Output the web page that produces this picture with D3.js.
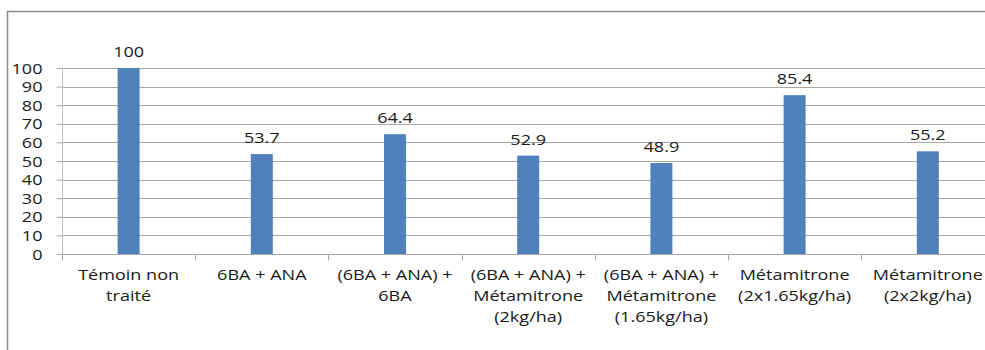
<!DOCTYPE html>
<html>
<head>
<meta charset="utf-8">
<script src="https://cdn.jsdelivr.net/npm/d3@7"></script>
<style>
  html, body { margin: 0; padding: 0; background: #fff; }
  svg { display: block; }
  text { font-family: "Open Sans", sans-serif; font-size: 14px; fill: #1a1a1a; }
</style>
</head>
<body>
<svg id="chart" width="985" height="350"></svg>
<script>
// Treatments (label lines) and their relative values
const categories = [
  ["Témoin non", "traité"],
  ["6BA + ANA"],
  ["(6BA + ANA) +", "6BA"],
  ["(6BA + ANA) +", "Métamitrone", "(2kg/ha)"],
  ["(6BA + ANA) +", "Métamitrone", "(1.65kg/ha)"],
  ["Métamitrone", "(2x1.65kg/ha)"],
  ["Métamitrone", "(2x2kg/ha)"]
];
const values = [100, 53.7, 64.4, 52.9, 48.9, 85.4, 55.2];
const valueLabels = ["100", "53.7", "64.4", "52.9", "48.9", "85.4", "55.2"];
const yTicks = [0, 10, 20, 30, 40, 50, 60, 70, 80, 90, 100];

const svg = d3.select("#chart");
const SX = 1.29; // horizontal stretch of the text glyphs

const plotLeft = 62, plotRight = 994.4, plotTop = 68, plotBottom = 254;
const ids = d3.range(categories.length);

const xBand = d3.scaleBand().domain(ids).range([plotLeft, plotRight]).paddingInner(0.835).paddingOuter(0.4175);
const xCat = d3.scaleBand().domain(ids).range([plotLeft, plotRight]).padding(0);
const y = d3.scaleLinear().domain([0, 100]).range([plotBottom, plotTop]);

// outer frame
svg.append("path")
  .attr("d", `M7.5,350 V11.5 H985`)
  .attr("fill", "none").attr("stroke", "#8a8a8a").attr("stroke-width", 1.5);

// horizontal gridlines
svg.append("g").selectAll("line").data(yTicks.filter(d => d > 0)).join("line")
  .attr("x1", plotLeft).attr("x2", 985)
  .attr("y1", d => Math.round(y(d)) + 0.5).attr("y2", d => Math.round(y(d)) + 0.5)
  .attr("stroke", "#a6a6a6").attr("stroke-width", 1);

// y axis
const yAxis = svg.append("g").attr("transform", `translate(${plotLeft + 0.5},0)`)
  .call(d3.axisLeft(y).tickValues(yTicks).tickSize(6).tickPadding(0).tickFormat(d3.format("d")));
yAxis.select(".domain").attr("stroke", "#bfbfbf").attr("d", `M0,${y(100)}V${y(0)}`);
yAxis.selectAll(".tick line").attr("stroke", "#a6a6a6");
yAxis.selectAll(".tick text").remove();
yAxis.selectAll(".tick").append("text")
  .attr("transform", `translate(-20,5) scale(${SX},1)`)
  .attr("text-anchor", "end")
  .text(d => d3.format("d")(d));

// x axis line and ticks at category boundaries
const xAxisG = svg.append("g").attr("transform", `translate(0,${Math.round(y(0)) + 0.5})`);
xAxisG.append("line").attr("x1", plotLeft).attr("x2", 985).attr("stroke", "#a6a6a6");
xAxisG.selectAll("line.tk").data(ids.concat([ids.length])).join("line").attr("class", "tk")
  .attr("x1", d => Math.round(plotLeft + d * xCat.step()) + 0.5)
  .attr("x2", d => Math.round(plotLeft + d * xCat.step()) + 0.5)
  .attr("y1", 0).attr("y2", 6).attr("stroke", "#a6a6a6");

// bars
svg.append("g").selectAll("rect").data(values).join("rect")
  .attr("x", (d, i) => xBand(i))
  .attr("width", xBand.bandwidth())
  .attr("y", d => y(d))
  .attr("height", d => y(0) - y(d))
  .attr("fill", "#4f81bd");

// value labels
svg.append("g").selectAll("text").data(values).join("text")
  .attr("transform", (d, i) => `translate(${xBand(i) + xBand.bandwidth() / 2},${y(d) - 11}) scale(${SX},1)`)
  .attr("text-anchor", "middle")
  .text((d, i) => valueLabels[i]);

// category labels
const catG = svg.append("g").selectAll("g").data(categories).join("g");
catG.each(function (lines, i) {
  const cx = xCat(i) + xCat.bandwidth() / 2;
  d3.select(this).selectAll("text").data(lines).join("text")
    .attr("transform", (t, j) => `translate(${cx},${280 + j * 21}) scale(${SX},1)`)
    .attr("text-anchor", "middle")
    .text(t => t);
});
</script>
</body>
</html>
